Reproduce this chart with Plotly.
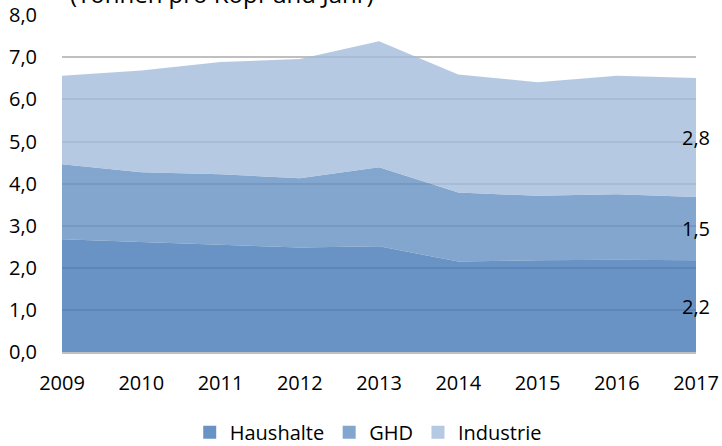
import plotly.graph_objects as go

years = [2009, 2010, 2011, 2012, 2013, 2014, 2015, 2016, 2017]
haushalte = [2.68, 2.61, 2.54, 2.48, 2.51, 2.15, 2.18, 2.19, 2.18]
ghd = [1.78, 1.66, 1.68, 1.65, 1.88, 1.64, 1.53, 1.56, 1.50]
industrie = [2.10, 2.42, 2.67, 2.83, 2.99, 2.80, 2.70, 2.81, 2.83]
y_ticks = [0, 1, 2, 3, 4, 5, 6, 7, 8]
title_text = "(Tonnen pro Kopf und Jahr)"

series = [
    ("Haushalte", haushalte, "rgba(69,120,183,0.8)"),
    ("GHD", ghd, "rgba(100,144,194,0.8)"),
    ("Industrie", industrie, "rgba(164,188,219,0.8)"),
]

fig = go.Figure()
for name, vals, col in series:
    fig.add_trace(go.Scatter(
        x=years, y=vals, name=name, mode="lines", stackgroup="one",
        line=dict(width=0, color=col), fillcolor=col, hoverinfo="x+y+name",
        showlegend=False,
    ))
# square legend swatches
for name, vals, col in series:
    fig.add_trace(go.Scatter(
        x=[None], y=[None], name=name, mode="markers",
        marker=dict(symbol="square", size=13, color=col, line=dict(width=0)),
        showlegend=True,
    ))

# value labels at the last year, centred in each band
base = 0.0
for name, vals, col in series:
    v = vals[-1]
    fig.add_annotation(
        x=years[-1], y=base + v / 2, xref="x", yref="y",
        text=f"{v:.1f}".replace(".", ","), showarrow=False,
        font=dict(family="Open Sans", size=20, color="#000000"),
        xanchor="center", yanchor="middle",
    )
    base += v

fig.add_annotation(
    x=0.0095, y=1.065, xref="paper", yref="paper", text=title_text,
    showarrow=False, xanchor="left", yanchor="middle",
    font=dict(family="Open Sans", size=24, color="#000000"),
)

fig.update_layout(
    width=722, height=446,
    margin=dict(l=62, r=26, t=15, b=94, autoexpand=False),
    paper_bgcolor="white", plot_bgcolor="white",
    separators=",.",
    font=dict(family="Open Sans", size=20, color="#000000"),
    showlegend=True,
    legend=dict(orientation="h", x=0.483, xanchor="center", y=-0.238, yanchor="middle",
                font=dict(size=20), traceorder="normal", itemwidth=30),
    xaxis=dict(range=[years[0], years[-1]], tickvals=years, showgrid=False,
               showline=True, linecolor="#bfbfbf", linewidth=1.5, ticks="",
               ticklabelstandoff=12, zeroline=False, automargin=False),
    yaxis=dict(range=[0, 8.006], tickvals=y_ticks, tickformat=".1f", showgrid=True,
               gridcolor="#bfbfbf", gridwidth=1.5, zeroline=False, ticks="",
               ticklabelstandoff=24, automargin=False),
)

fig.write_html("out.html", config={"displayModeBar": False},
               post_script="document.body.style.margin='0px';")
